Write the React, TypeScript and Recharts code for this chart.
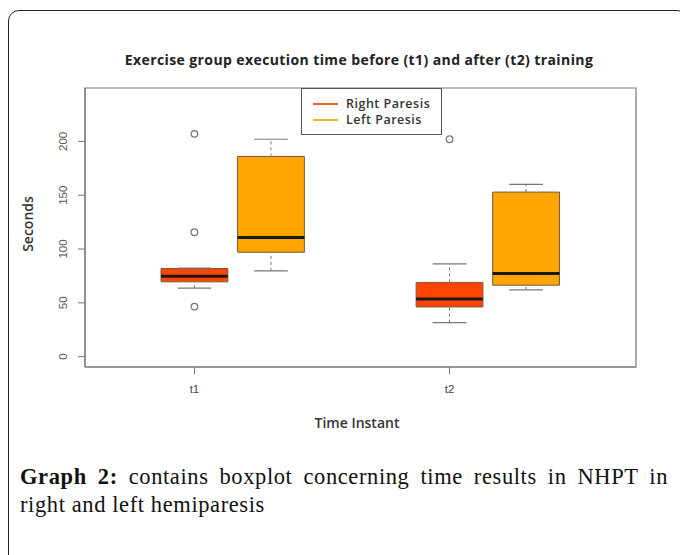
import {
  ComposedChart, XAxis, YAxis, Scatter,
  ReferenceArea, ReferenceLine,
} from 'recharts';

// ─── Data ───────────────────────────────────────────────────
const groups = ['t1', 't2'];
const groupAt = [1, 2];
const seriesNames = ['Right Paresis', 'Left Paresis'];
const seriesColors = ['#FF4500', '#FFA500'];
const legendColors = ['#E8662E', '#F2B42A'];

// one entry per box: t1 Right, t1 Left, t2 Right, t2 Left
const boxAt = [1, 1.3, 2, 2.3];
const boxSeries = [0, 1, 0, 1];
const boxMin = [63.6, 79.7, 31.6, 62];
const boxQ1 = [69.5, 97, 46.2, 66.4];
const boxMedian = [74.7, 110.7, 53.6, 77.2];
const boxQ3 = [81.9, 186, 69, 152.9];
const boxMax = [82.2, 202, 86.2, 160];

const outlierAt = [1, 1, 1, 2];
const outlierValue = [207, 115.6, 46.5, 202];

const yTicks = [0, 50, 100, 150, 200];
const xDomain = [0.571, 2.731];
const yDomain = [-9.6, 249.6];

const BOX_HALF = 0.131;
const CAP_HALF = 0.066;
const AXIS_FONT = '"Liberation Sans", Arial, sans-serif';
const LABEL_FONT = '"Open Sans", "Noto Sans", sans-serif';
const SERIF = '"Liberation Serif", "Times New Roman", serif';

const outliers = outlierAt.map((x, i) => ({ x, y: outlierValue[i] }));

function YTick({ x, y, payload }: { x?: number; y?: number; payload?: { value: number } }) {
  const tx = (x ?? 0) - 9;
  return (
    <text
      x={tx} y={y} transform={`rotate(-90 ${tx} ${y})`}
      textAnchor="middle" fontSize={11.5} fill="#555" fontFamily={AXIS_FONT}
    >
      {payload?.value}
    </text>
  );
}

function OpenCircle({ cx, cy }: { cx?: number; cy?: number }) {
  return <circle cx={cx} cy={cy} r={3.3} fill="none" stroke="#777" strokeWidth={1.3} />;
}

export default function App() {
  return (
    <div style={{
      position: 'relative', width: 680, height: 555, overflow: 'hidden',
      background: '#fff',
    }}>
      <style>{'body{margin:0}'}</style>

      {/* page frame */}
      <div style={{
        position: 'absolute', left: 8, top: 10, width: 680, height: 620,
        border: '1.5px solid #222', borderRadius: 11, boxSizing: 'border-box',
      }} />

      <div style={{
        position: 'absolute', left: 0, top: 50, width: 718, textAlign: 'center',
        fontFamily: LABEL_FONT, fontWeight: 700, fontSize: 14, letterSpacing: 0.4, color: '#222',
        whiteSpace: 'nowrap',
      }}>
        Exercise group execution time before (t1) and after (t2) training
      </div>

      <div style={{ position: 'absolute', left: 0, top: 0 }}>
        <ComposedChart width={680} height={440} margin={{ top: 88, right: 44, bottom: 0, left: 0 }}>
          <XAxis
            type="number" dataKey="x" domain={xDomain} allowDataOverflow
            ticks={groupAt} tickFormatter={(v: number) => groups[groupAt.indexOf(v)] ?? ''}
            height={73} tickSize={7} tickMargin={11}
            stroke="#777" tick={{ fontSize: 11.5, fill: '#444', fontFamily: AXIS_FONT }}
          />
          <YAxis
            type="number" domain={yDomain} allowDataOverflow ticks={yTicks}
            width={85} tickSize={7} stroke="#777" tick={<YTick />}
          />

          {/* plot box */}
          <ReferenceArea x1={xDomain[0]} x2={xDomain[1]} y1={yDomain[0]} y2={yDomain[1]}
            fill="none" stroke="#777" strokeWidth={1.2} ifOverflow="visible" />

          {/* whiskers */}
          {boxAt.map((x, i) => (
            <ReferenceLine key={`wl${i}`} segment={[{ x, y: boxMin[i] }, { x, y: boxQ1[i] }]}
              stroke="#777" strokeDasharray="3 3" ifOverflow="visible" />
          ))}
          {boxAt.map((x, i) => (
            <ReferenceLine key={`wu${i}`} segment={[{ x, y: boxQ3[i] }, { x, y: boxMax[i] }]}
              stroke="#777" strokeDasharray="3 3" ifOverflow="visible" />
          ))}
          {boxAt.map((x, i) => (
            <ReferenceLine key={`cl${i}`} segment={[{ x: x - CAP_HALF, y: boxMin[i] }, { x: x + CAP_HALF, y: boxMin[i] }]}
              stroke="#777" strokeWidth={1.2} ifOverflow="visible" />
          ))}
          {boxAt.map((x, i) => (
            <ReferenceLine key={`cu${i}`} segment={[{ x: x - CAP_HALF, y: boxMax[i] }, { x: x + CAP_HALF, y: boxMax[i] }]}
              stroke="#777" strokeWidth={1.2} ifOverflow="visible" />
          ))}

          {/* boxes */}
          {boxAt.map((x, i) => (
            <ReferenceArea key={`b${i}`} x1={x - BOX_HALF} x2={x + BOX_HALF} y1={boxQ1[i]} y2={boxQ3[i]}
              fill={seriesColors[boxSeries[i]]} fillOpacity={1} stroke="#7a5a40" strokeWidth={1}
              ifOverflow="visible" />
          ))}

          {/* medians */}
          {boxAt.map((x, i) => (
            <ReferenceLine key={`m${i}`} segment={[{ x: x - BOX_HALF, y: boxMedian[i] }, { x: x + BOX_HALF, y: boxMedian[i] }]}
              stroke="#1a1a1a" strokeWidth={3} ifOverflow="visible" />
          ))}

          <Scatter data={outliers} dataKey="y" shape={<OpenCircle />} isAnimationActive={false} />
        </ComposedChart>
      </div>

      {/* legend */}
      <div style={{
        position: 'absolute', left: 301, top: 88, width: 141, height: 47,
        border: '1.3px solid #555', boxSizing: 'border-box', background: '#fff',
        padding: '7px 0 0 11px', fontFamily: LABEL_FONT, fontSize: 12.5, fontWeight: 600,
        letterSpacing: 0.5, color: '#333', lineHeight: '16px', whiteSpace: 'nowrap',
      }}>
        {seriesNames.map((name, i) => (
          <div key={name} style={{ display: 'flex', alignItems: 'center', height: 16 }}>
            <span style={{ display: 'inline-block', width: 25, height: 2.5, background: legendColors[i], marginRight: 8 }} />
            {name}
          </div>
        ))}
      </div>

      <div style={{
        position: 'absolute', left: 27, top: 224, transform: 'translate(-50%, -50%) rotate(-90deg)',
        fontFamily: LABEL_FONT, fontSize: 14, fontWeight: 600, color: '#333', whiteSpace: 'nowrap',
      }}>
        Seconds
      </div>

      <div style={{
        position: 'absolute', left: 0, top: 413, width: 714, textAlign: 'center',
        fontFamily: LABEL_FONT, fontSize: 14, fontWeight: 600, color: '#333',
      }}>
        Time Instant
      </div>

      {/* caption */}
      <div style={{
        position: 'absolute', left: 20, top: 463, width: 648,
        fontFamily: SERIF, fontSize: 22.5, lineHeight: '28px', color: '#111',
        letterSpacing: 0.6,
      }}>
        <div style={{ textAlign: 'justify', textAlignLast: 'justify', whiteSpace: 'nowrap' }}>
          <b>Graph 2:</b> contains boxplot concerning time results in NHPT in
        </div>
        <div>right and left hemiparesis</div>
      </div>
    </div>
  );
}
